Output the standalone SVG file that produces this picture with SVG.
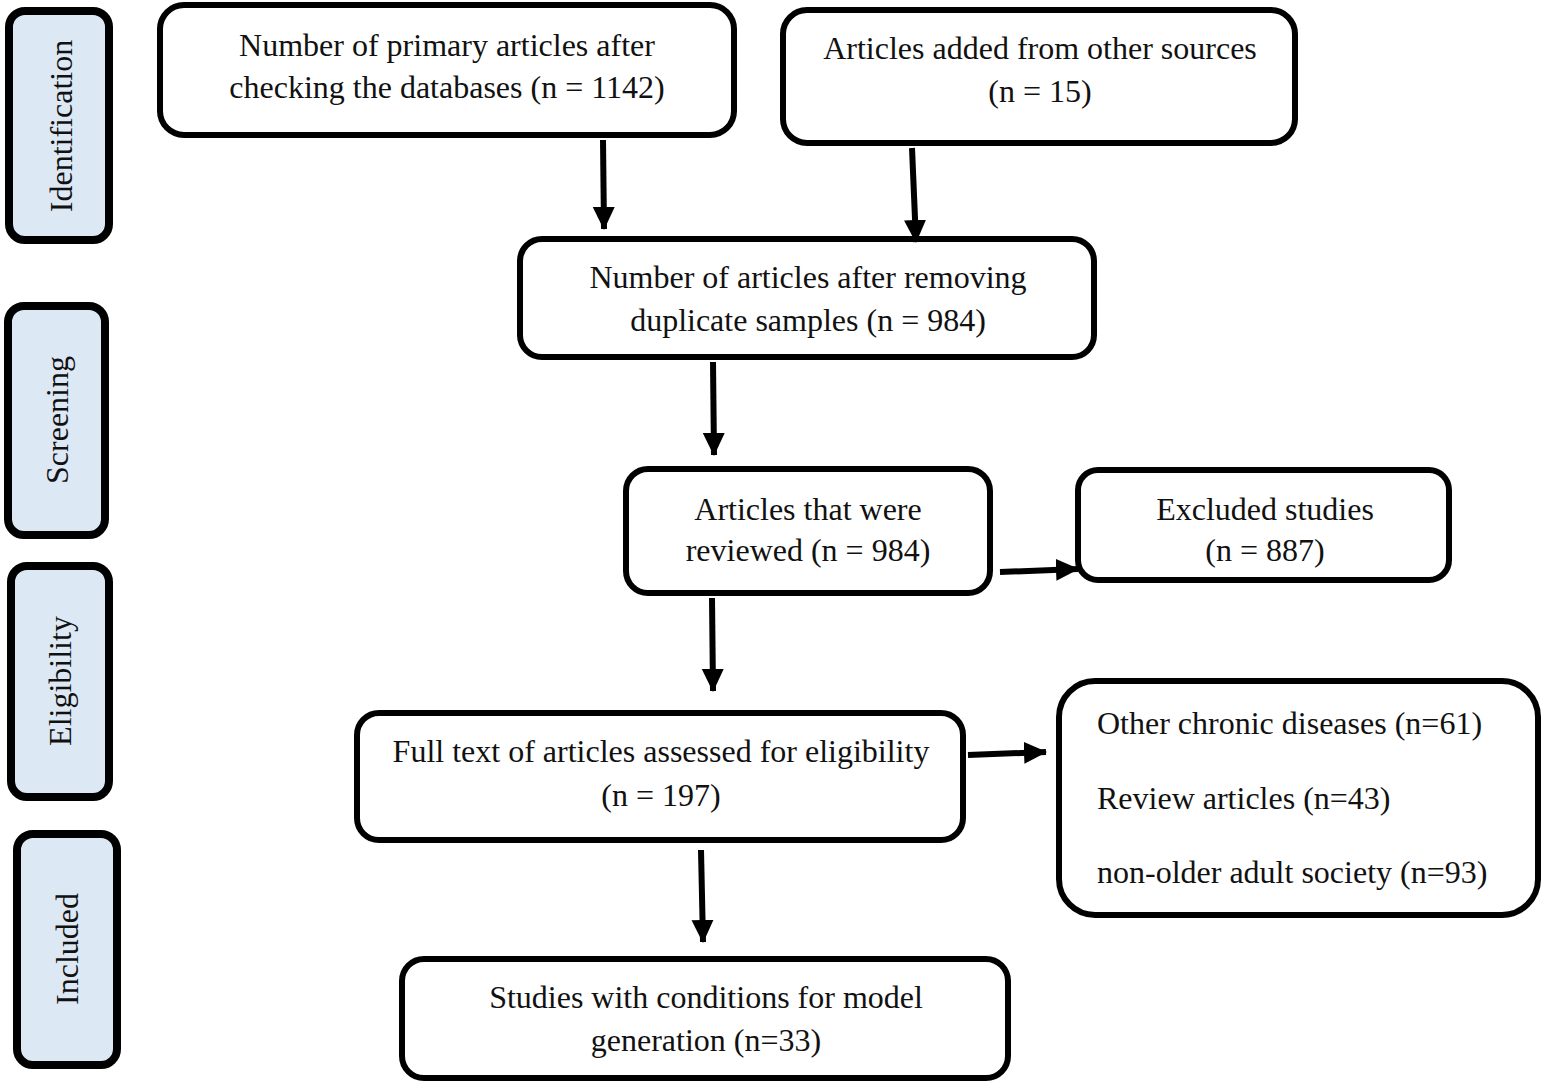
<svg xmlns="http://www.w3.org/2000/svg" width="1546" height="1083" viewBox="0 0 1546 1083">
<style>
.box{fill:#fff;stroke:#000;stroke-width:6}
.side{fill:#dde8f5;stroke:#000;stroke-width:8}
text{font-family:"Liberation Serif","Times New Roman",serif;font-size:32px;fill:#111}
.c{text-anchor:middle}
.conn line{stroke:#000;stroke-width:6}
</style>
<defs>
<marker id="ah" markerUnits="userSpaceOnUse" markerWidth="24" markerHeight="24" viewBox="0 0 24 24" refX="22" refY="12" orient="auto">
<path d="M0,1 L23,12 L0,23 Z" fill="#000"/>
</marker>
</defs>
<rect width="1546" height="1083" fill="#fff"/>
<g id="side-identification"><rect class="side" x="9" y="11" width="100" height="229" rx="16"/><text class="c" transform="translate(72,126) rotate(-90)">Identification</text></g>
<g id="side-screening"><rect class="side" x="8" y="306" width="97" height="229" rx="16"/><text class="c" transform="translate(68,420) rotate(-90)">Screening</text></g>
<g id="side-eligibility"><rect class="side" x="11" y="566" width="98" height="231" rx="16"/><text class="c" transform="translate(71,681) rotate(-90)">Eligibility</text></g>
<g id="side-included"><rect class="side" x="17" y="834" width="100" height="231" rx="16"/><text class="c" transform="translate(78,949) rotate(-90)">Included</text></g>

<g id="n1"><rect class="box" x="160" y="5" width="574" height="130" rx="24"/><text class="c" x="447" y="56">Number of primary articles after</text><text class="c" x="447" y="98">checking the databases (n = 1142)</text></g>
<g id="n2"><rect class="box" x="783" y="10" width="512" height="133" rx="24"/><text class="c" x="1040" y="59">Articles added from other sources</text><text class="c" x="1040" y="102">(n = 15)</text></g>
<g id="n3"><rect class="box" x="520" y="239" width="574" height="118" rx="22"/><text class="c" x="808" y="288">Number of articles after removing</text><text class="c" x="808" y="331">duplicate samples (n = 984)</text></g>
<g id="n4"><rect class="box" x="626" y="469" width="364" height="124" rx="22"/><text class="c" x="808" y="520">Articles that were</text><text class="c" x="808" y="561">reviewed (n = 984)</text></g>
<g id="n5"><rect class="box" x="1078" y="470" width="371" height="110" rx="20"/><text class="c" x="1265" y="520">Excluded studies</text><text class="c" x="1265" y="561">(n = 887)</text></g>
<g id="n6"><rect class="box" x="357" y="713" width="606" height="127" rx="22"/><text class="c" x="661" y="762">Full text of articles assessed for eligibility</text><text class="c" x="661" y="806">(n = 197)</text></g>
<g id="n7"><rect class="box" x="1059" y="681" width="479" height="234" rx="36"/><text x="1097" y="734">Other chronic diseases (n=61)</text><text x="1097" y="809">Review articles (n=43)</text><text x="1097" y="883">non-older adult society (n=93)</text></g>
<g id="n8"><rect class="box" x="402" y="959" width="606" height="119" rx="22"/><text class="c" x="706" y="1008">Studies with conditions for model</text><text class="c" x="706" y="1051">generation (n=33)</text></g>

<g id="connectors" class="conn">
<line x1="603" y1="140" x2="604" y2="229" marker-end="url(#ah)"/>
<line x1="912" y1="148" x2="916" y2="242" marker-end="url(#ah)"/>
<line x1="713" y1="362" x2="714" y2="455" marker-end="url(#ah)"/>
<line x1="1000" y1="572" x2="1078" y2="569" marker-end="url(#ah)"/>
<line x1="712" y1="598" x2="713" y2="691" marker-end="url(#ah)"/>
<line x1="968" y1="755" x2="1046" y2="752" marker-end="url(#ah)"/>
<line x1="701" y1="850" x2="703" y2="942" marker-end="url(#ah)"/>
</g>
</svg>
